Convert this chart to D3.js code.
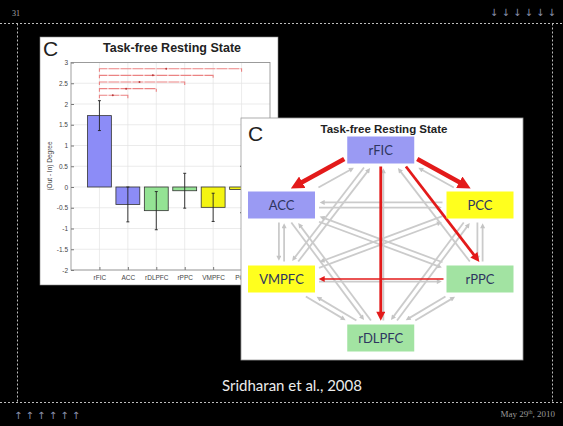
<!DOCTYPE html>
<html>
<head>
<meta charset="utf-8">
<script src="https://cdn.jsdelivr.net/npm/d3@7"></script>
<style>
  body { margin: 0; background: #000; }
  svg { display: block; }
</style>
</head>
<body>
<svg id="slide" width="563" height="426"></svg>
<script>
// ---- bar chart data (out - in degree) ----
const regions = ["rFIC", "ACC", "rDLPFC", "rPPC", "VMPFC", "PCC"];
const regionNetwork = ["SN", "SN", "CEN", "CEN", "DMN", "DMN"];
const degree = [1.72, -0.42, -0.57, -0.09, -0.49, -0.06];
const degreeErr = [0.36, 0.42, 0.46, 0.42, 0.34, 0.56];
const yTicks = [-2, -1.5, -1, -0.5, 0, 0.5, 1, 1.5, 2, 2.5, 3];
// rFIC differs from each of these, bracket height in data units
const sigTargets = ["ACC", "rDLPFC", "rPPC", "VMPFC", "PCC"];
const sigLevels = [2.21, 2.37, 2.53, 2.69, 2.85];

// ---- network data ----
const nodes = ["rFIC", "ACC", "PCC", "VMPFC", "rPPC", "rDLPFC"];
const nodeNetwork = ["SN", "SN", "DMN", "DMN", "CEN", "CEN"];
const nodeColumn = ["center", "left", "right", "left", "right", "center"];
const nodeRow = ["top", "upper", "upper", "lower", "lower", "bottom"];
// significant directed links
const sigFrom = ["rFIC", "rFIC", "rFIC", "rFIC", "rPPC"];
const sigTo = ["ACC", "PCC", "rDLPFC", "rPPC", "VMPFC"];
const sigWeight = [3, 3, 2, 2, 1];

const svg = d3.select("#slide");

// ---------- slide frame ----------
const frame = svg.append("g").attr("stroke", "#bdbdbd").attr("stroke-width", 1)
  .attr("stroke-dasharray", "2,2");
frame.append("line").attr("x1", 0).attr("x2", 563).attr("y1", 23.5).attr("y2", 23.5);
frame.append("line").attr("x1", 0).attr("x2", 563).attr("y1", 402.5).attr("y2", 402.5);
frame.append("line").attr("x1", 17.5).attr("x2", 17.5).attr("y1", 23.5).attr("y2", 402.5);
frame.append("line").attr("x1", 552.5).attr("x2", 552.5).attr("y1", 23.5).attr("y2", 402.5);

svg.append("text").attr("x", 12).attr("y", 16).text("31")
  .style("font", "8px 'Liberation Serif'").attr("fill", "#aaa");
svg.append("text").attr("x", 556).attr("y", 15.5).attr("text-anchor", "end")
  .text("↓ ↓ ↓ ↓ ↓ ↓").style("font", "10px 'DejaVu Sans'").attr("fill", "#8c92ad");
svg.append("text").attr("x", 14).attr("y", 418.5)
  .text("↑ ↑ ↑ ↑ ↑ ↑").style("font", "10px 'DejaVu Sans'").attr("fill", "#8c92ad");
const dateT = svg.append("text").attr("x", 555).attr("y", 416.5).attr("text-anchor", "end")
  .style("font", "9px 'Liberation Serif'").attr("fill", "#9a9a9a");
dateT.append("tspan").text("May 29");
dateT.append("tspan").attr("dy", -3).style("font-size", "5.5px").text("th");
dateT.append("tspan").attr("dy", 3).text(", 2010");

svg.append("text").attr("x", 292).attr("y", 391).attr("text-anchor", "middle")
  .text("Sridharan et al., 2008").style("font", "15px Lato").attr("fill", "#ececec");

// ---------- bar chart panel ----------
const barColor = d3.scaleOrdinal(["SN", "CEN", "DMN"], ["#8c8cf7", "#94e394", "#f4f412"]);
const bp = svg.append("g");
bp.append("rect").attr("x", 40).attr("y", 37).attr("width", 238).attr("height", 248)
  .attr("fill", "#fff").attr("stroke", "#888").attr("stroke-width", 0.6);

const bx = d3.scalePoint().domain(regions).range([71, 270]).padding(1);
const by = d3.scaleLinear().domain([-2, 3]).range([270, 62.5]);
const bw = bx.step() * 0.84;

// grid
bp.append("g").selectAll("line").data(yTicks).join("line")
  .attr("x1", 71).attr("x2", 270).attr("y1", d => by(d)).attr("y2", d => by(d))
  .attr("stroke", "#e3e3e3").attr("stroke-width", 0.7);
bp.append("g").selectAll("line").data(regions).join("line")
  .attr("x1", d => bx(d)).attr("x2", d => bx(d)).attr("y1", 62.5).attr("y2", 270)
  .attr("stroke", "#e3e3e3").attr("stroke-width", 0.7);

// axes
const yAx = bp.append("g").attr("transform", "translate(71,0)")
  .call(d3.axisLeft(by).tickValues(yTicks).tickSize(-3).tickPadding(3).tickFormat(d => String(d)));
const xAx = bp.append("g").attr("transform", "translate(0,270)")
  .call(d3.axisBottom(bx).tickSize(-3).tickPadding(5));
[yAx, xAx].forEach(a => {
  a.select(".domain").remove();
  a.selectAll("line").attr("stroke", "#777");
  a.selectAll("text").style("font", "6.5px 'Liberation Sans'").attr("fill", "#444");
});
bp.append("rect").attr("x", 71).attr("y", 62.5).attr("width", 199).attr("height", 207.5)
  .attr("fill", "none").attr("stroke", "#888").attr("stroke-width", 0.8);

// bars
bp.append("g").selectAll("rect").data(regions).join("rect")
  .attr("x", d => bx(d) - bw / 2)
  .attr("y", (d, i) => by(Math.max(0, degree[i])))
  .attr("width", bw)
  .attr("height", (d, i) => Math.abs(by(degree[i]) - by(0)))
  .attr("fill", (d, i) => barColor(regionNetwork[i]))
  .attr("stroke", "#333").attr("stroke-width", 0.8);

// error bars
const eb = bp.append("g").attr("stroke", "#222").attr("stroke-width", 0.9);
regions.forEach((r, i) => {
  const x = bx(r), y1 = by(degree[i] - degreeErr[i]), y2 = by(degree[i] + degreeErr[i]);
  eb.append("line").attr("x1", x).attr("x2", x).attr("y1", y1).attr("y2", y2);
  eb.append("line").attr("x1", x - 1.5).attr("x2", x + 1.5).attr("y1", y1).attr("y2", y1);
  eb.append("line").attr("x1", x - 1.5).attr("x2", x + 1.5).attr("y1", y2).attr("y2", y2);
});

// significance brackets
const sg = bp.append("g");
sigTargets.forEach((t, i) => {
  const x0 = bx("rFIC"), x1 = bx(t), y = by(sigLevels[i]);
  sg.append("path")
    .attr("d", `M${x0},${y + 3}V${y}H${x1}V${y + 3}`)
    .attr("fill", "none").attr("stroke", "#eb8383").attr("stroke-width", 1.1)
    .attr("stroke-dasharray", "11,1");
  sg.append("circle").attr("cx", x0 + (x1 - x0) * 0.47).attr("cy", y).attr("r", 1)
    .attr("fill", "#b83a3a");
});

bp.append("text").attr("x", 43).attr("y", 56).text("C")
  .style("font", "21px 'Liberation Sans'").attr("fill", "#222");
bp.append("text").attr("x", 172).attr("y", 52).attr("text-anchor", "middle")
  .text("Task-free Resting State").style("font", "bold 12.5px 'Liberation Sans'").attr("fill", "#222");
bp.append("text").attr("transform", "translate(52,166) rotate(-90)").attr("text-anchor", "middle")
  .text("(Out - In) Degree").style("font", "6.5px 'Liberation Sans'").attr("fill", "#444");

// ---------- network panel ----------
const np = svg.append("g");
np.append("rect").attr("x", 241).attr("y", 118).attr("width", 282).attr("height", 242)
  .attr("fill", "#fff").attr("stroke", "#999").attr("stroke-width", 0.8);
np.append("text").attr("x", 248).attr("y", 141).text("C")
  .style("font", "21px 'Liberation Sans'").attr("fill", "#222");
np.append("text").attr("x", 384).attr("y", 133).attr("text-anchor", "middle")
  .text("Task-free Resting State").style("font", "bold 11.5px 'Liberation Sans'").attr("fill", "#222");

const nodeColor = d3.scaleOrdinal(["SN", "DMN", "CEN"], ["#9a9af3", "#ffff1e", "#a2e3a2"]);
const colX = d3.scalePoint(["left", "center", "right"], [281.5, 480]);
const rowY = d3.scaleOrdinal(["top", "upper", "lower", "bottom"], [150, 205, 279, 338]);
const NW = 67, NH = 27;
const pos = new Map(nodes.map((n, i) => [n, { x: colX(nodeColumn[i]), y: rowY(nodeRow[i]) }]));
const hub = { x: d3.mean(nodes, n => pos.get(n).x), y: d3.mean(nodes, n => pos.get(n).y) };

// markers
const defs = svg.append("defs");
function marker(id, color, len, wid) {
  defs.append("marker").attr("id", id).attr("viewBox", "0 -5 10 10")
    .attr("refX", 3).attr("refY", 0).attr("markerUnits", "userSpaceOnUse")
    .attr("markerWidth", len).attr("markerHeight", wid).attr("orient", "auto")
    .append("path").attr("d", "M0,-5L10,0L0,5Z").attr("fill", color);
}
marker("arrGray", "#c4c4c4", 6, 5);
const redHead = { 1: [7, 6], 2: [10, 9], 3: [13, 13] };
const redWidth = { 1: 1.6, 2: 2.8, 3: 4.6 };
[1, 2, 3].forEach(w => marker("arrRed" + w, "#e31a1a", redHead[w][0], redHead[w][1]));

function segment(a, b, off, pad, head) {
  const p = pos.get(a), q = pos.get(b);
  const L = Math.hypot(q.x - p.x, q.y - p.y);
  const ux = (q.x - p.x) / L, uy = (q.y - p.y) / L;
  const nx = -uy, ny = ux;
  const sx = p.x + nx * off, sy = p.y + ny * off;
  const ex = q.x + nx * off, ey = q.y + ny * off;
  const hw = NW / 2 + pad, hh = NH / 2 + pad;
  const tS = Math.min(
    Math.abs(ux) > 1e-9 ? Math.abs(((ux > 0 ? p.x + hw : p.x - hw) - sx) / ux) : Infinity,
    Math.abs(uy) > 1e-9 ? Math.abs(((uy > 0 ? p.y + hh : p.y - hh) - sy) / uy) : Infinity);
  const tE = Math.min(
    Math.abs(ux) > 1e-9 ? Math.abs((ex - (ux > 0 ? q.x - hw : q.x + hw)) / ux) : Infinity,
    Math.abs(uy) > 1e-9 ? Math.abs((ey - (uy > 0 ? q.y - hh : q.y + hh)) / uy) : Infinity) + head * 0.7;
  return { x1: sx + ux * tS, y1: sy + uy * tS, x2: ex - ux * tE, y2: ey - uy * tE, nx, ny, p, q };
}

const redKey = new Set(sigFrom.map((s, i) => s + ">" + sigTo[i]));
const grayEdges = [];
nodes.forEach(a => nodes.forEach(b => {
  if (a !== b && !redKey.has(a + ">" + b)) grayEdges.push([a, b]);
}));

np.append("g").selectAll("line").data(grayEdges).join("line")
  .each(function (d) {
    const s = segment(d[0], d[1], 2.6, 4, 6);
    d3.select(this).attr("x1", s.x1).attr("y1", s.y1).attr("x2", s.x2).attr("y2", s.y2);
  })
  .attr("stroke", "#cbcbcb").attr("stroke-width", 1.8)
  .attr("marker-end", "url(#arrGray)");

np.append("g").selectAll("line").data(sigFrom.map((s, i) => [s, sigTo[i], sigWeight[i]])).join("line")
  .each(function (d) {
    const base = segment(d[0], d[1], 0, 3, 0);
    const mx = (base.p.x + base.q.x) / 2 - hub.x, my = (base.p.y + base.q.y) / 2 - hub.y;
    const dist = Math.hypot(mx, my);
    const off = dist > 40 ? 10 * (base.nx * mx + base.ny * my) / dist : 0;
    const s = segment(d[0], d[1], off, 3, redHead[d[2]][0]);
    d3.select(this).attr("x1", s.x1).attr("y1", s.y1).attr("x2", s.x2).attr("y2", s.y2);
  })
  .attr("stroke", "#e31a1a").attr("stroke-width", d => redWidth[d[2]])
  .attr("marker-end", d => `url(#arrRed${d[2]})`);

const ng = np.append("g").selectAll("g").data(nodes).join("g")
  .attr("transform", d => `translate(${pos.get(d).x},${pos.get(d).y})`);
ng.append("rect").attr("x", -NW / 2).attr("y", -NH / 2).attr("width", NW).attr("height", NH)
  .attr("fill", (d, i) => nodeColor(nodeNetwork[i]));
ng.append("text").attr("text-anchor", "middle").attr("dy", "0.36em")
  .text(d => d).style("font", "13px Lato").attr("fill", "#2e3560");
</script>
</body>
</html>
